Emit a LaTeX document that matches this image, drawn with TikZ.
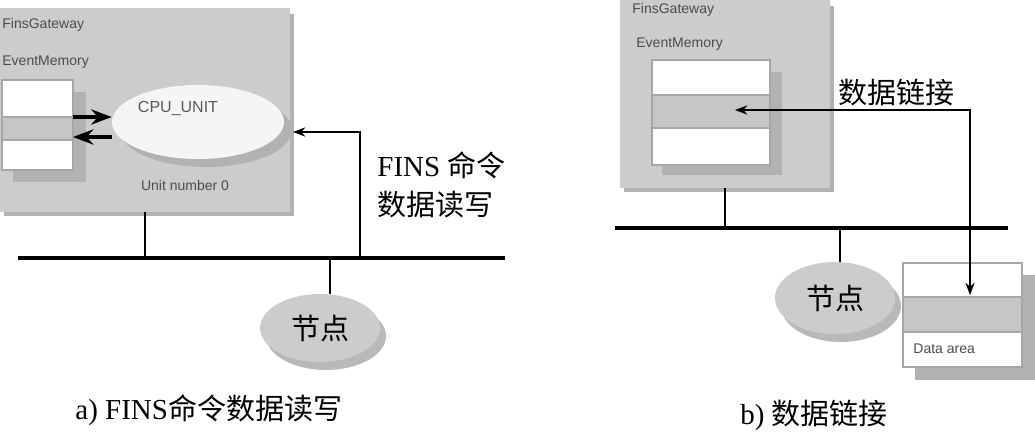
\documentclass[tikz,border=0pt]{standalone}
\usepackage{fontspec}
\setmainfont{Liberation Serif}
\newfontfamily\cjk{Noto Sans CJK SC}
\newfontfamily\labelfont{Liberation Sans}
\usetikzlibrary{positioning,shapes.geometric,arrows.meta}

\begin{document}
\begin{tikzpicture}[x=0.5pt,y=-0.5pt,>=Stealth,
    gate/.style={fill=gray!40,draw=none},
    gateshadow/.style={fill=gray!60,draw=none},
    row/.style={draw=gray!70,line width=1pt,fill=white},
    grayrow/.style={draw=gray!70,line width=1pt,fill=gray!45},
    tiny/.style={font=\labelfont\fontsize{7}{8}\selectfont,text=gray!60!black,inner sep=0pt},
    cn/.style={font=\cjk\fontsize{14.5}{16}\selectfont,inner sep=0pt},
    latin/.style={font=\fontsize{14.5}{16}\selectfont,inner sep=0pt},
    bus/.style={line width=2pt},
    wire/.style={line width=0.7pt}]
    \useasboundingbox (0,0) rectangle (1035,436);

    % a) FINS commands
    \fill[gateshadow] (4,14) rectangle (294,216);
    \fill[gate] (0,8) rectangle (290,212);
    \node[tiny,anchor=west] (gwa) at (2,25) {FinsGateway};
    \node[tiny,anchor=west] (ema) at (2,62) {EventMemory};
    \fill[gray!60] (13,92) rectangle (86,182);
    \draw[row] (2,80) rectangle (73,117);
    \draw[grayrow] (2,117) rectangle (73,140);
    \draw[row] (2,140) rectangle (73,170);
    \coordinate (mema1) at (73,117);
    \coordinate (mema2) at (73,137);
    \fill[gray!60] (206,130) ellipse (86 and 37);
    \node[ellipse,fill=gray!8,minimum width=86pt,minimum height=37pt,inner sep=0pt] (cpu) at (198,122) {};
    \node[tiny,text=gray!70!black,font=\labelfont\fontsize{8}{9}\selectfont] (cpul) at (178,108) {CPU\_UNIT};
    \node[tiny] (unit) at (185,185) {Unit number 0};
    \draw[->,line width=1.6pt] (mema1) -- (cpu.west |- mema1);
    \draw[<-,line width=1.6pt] (mema2) -- (cpu.west |- mema2);

    \coordinate (busal) at (18,258);
    \coordinate (busar) at (505,258);
    \draw[bus] (busal) -- (busar);
    \draw[wire] (145,212) -- (145,258);
    \coordinate (cmdb) at (360,258);
    \coordinate (cmdt) at (293,132);
    \draw[wire,->] (cmdb) |- (cmdt);
    \node[latin,anchor=west] (fins) at (377,165) {FINS {\cjk 命令}};
    \node[cn,anchor=west] (rwa) at (377,205) {数据读写};

    \fill[gray!55] (326,336) ellipse (60 and 34);
    \node[ellipse,fill=gray!40,minimum width=60pt,minimum height=34pt,inner sep=0pt] (nodea) at (320,328) {};
    \node[cn] at (nodea) {节点};
    \draw[wire] (330,258) -- (nodea.north -| 330,0);

    \node[latin,anchor=west] (capa) at (75,410) {a) FINS{\cjk 命令数据读写}};

    % b) data link
    \fill[gateshadow] (624,6) rectangle (834,192);
    \fill[gate] (620,0) rectangle (830,188);
    \node[tiny,anchor=west] (gwb) at (632,10) {FinsGateway};
    \node[tiny,anchor=west] (emb) at (636,44) {EventMemory};
    \fill[gray!60] (662,72) rectangle (782,175);
    \draw[row] (652,60) rectangle (770,95);
    \draw[grayrow] (652,95) rectangle (770,128);
    \draw[row] (652,128) rectangle (770,165);

    \draw[bus] (615,228) -- (1008,228);
    \draw[wire] (725,188) -- (725,228);

    \fill[gray!55] (841,306) ellipse (60 and 36);
    \node[ellipse,fill=gray!40,minimum width=60pt,minimum height=36pt,inner sep=0pt] (nodeb) at (835,298) {};
    \node[cn] at (nodeb) {节点};
    \draw[wire] (840,228) -- (nodeb.north -| 840,0);

    \fill[gray!60] (915,275) rectangle (1035,380);
    \draw[row] (903,263) rectangle (1022,297);
    \draw[grayrow] (903,297) rectangle (1022,332);
    \draw[row] (903,332) rectangle (1022,367);
    \node[tiny,anchor=west] (darea) at (913,349) {Data area};

    \coordinate (linkm) at (735,110);
    \coordinate (linkd) at (970,295);
    \draw[wire,<->] (linkm) -| (linkd);
    \node[cn,anchor=west] (link) at (838,92) {数据链接};

    \node[latin,anchor=west] (capb) at (740,415) {b) {\cjk 数据链接}};
\end{tikzpicture}
\end{document}
